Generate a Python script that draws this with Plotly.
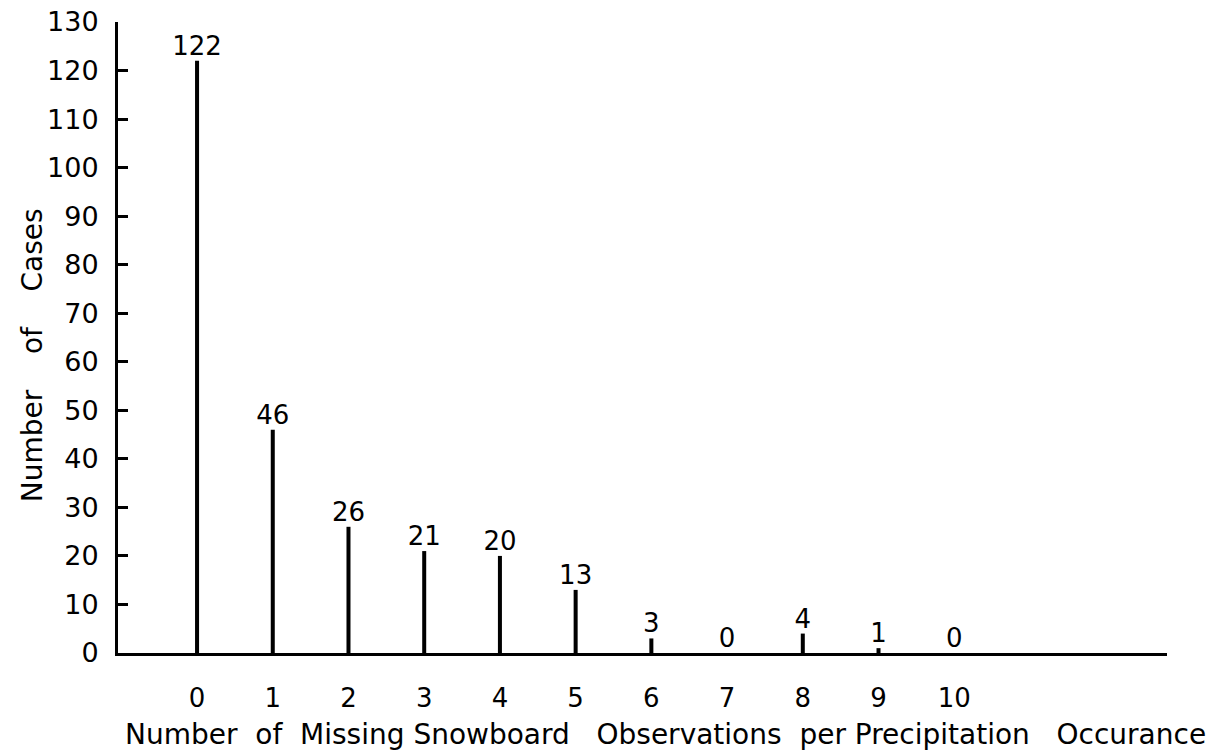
import plotly.graph_objects as go

categories = [0, 1, 2, 3, 4, 5, 6, 7, 8, 9, 10]
cases = [122, 46, 26, 21, 20, 13, 3, 0, 4, 1, 0]
y_ticks = list(range(0, 131, 10))
x_title_words = ["Number", "of", "Missing", "Snowboard", "Observations", "per", "Precipitation", "Occurance"]
y_title_words = ["Number", "of", "Cases"]

FONT = "DejaVu Sans"
NB = "\u00a0"

x_gaps = [2, 2, 1, 3, 2, 1, 3]
x_title = x_title_words[0]
for w, g in zip(x_title_words[1:], x_gaps):
    x_title += NB * g + w
y_title = (NB * 4).join(y_title_words)

fig = go.Figure()
fig.add_trace(go.Bar(
    x=categories,
    y=cases,
    width=0.053,
    marker=dict(color="black", line=dict(width=0)),
    text=[str(v) for v in cases],
    textposition="outside",
    constraintext="none",
    textfont=dict(family=FONT, size=26, color="black"),
    cliponaxis=False,
    hoverinfo="skip",
))

fig.update_layout(
    width=1217, height=756,
    margin=dict(l=118, r=50, t=22, b=103),
    paper_bgcolor="white", plot_bgcolor="white",
    showlegend=False,
    font=dict(family=FONT, color="black"),
    annotations=[
        dict(text=x_title, xref="paper", yref="paper", x=0.5215, y=0,
             xanchor="center", yanchor="middle", yshift=-81, showarrow=False,
             font=dict(family=FONT, size=28, color="black")),
        dict(text=y_title, xref="paper", yref="paper", x=-0.082, y=0.472,
             xanchor="center", yanchor="middle", textangle=-90, showarrow=False,
             font=dict(family=FONT, size=28, color="black")),
    ],
)
fig.update_xaxes(
    range=[-1.044, 12.81], automargin=False,
    tickmode="array", tickvals=categories, ticktext=[str(c) for c in categories],
    ticks="", showgrid=False, zeroline=False,
    showline=True, linecolor="black", linewidth=3,
    tickfont=dict(family=FONT, size=26, color="black"),
    ticklabelstandoff=20, ticklabeloverflow="allow",
)
fig.update_yaxes(
    range=[0, 130], automargin=False,
    tickmode="array", tickvals=y_ticks, ticktext=[str(v) for v in y_ticks],
    ticks="inside", ticklen=10, tickwidth=2.5, tickcolor="black",
    showgrid=False, zeroline=False,
    showline=True, linecolor="black", linewidth=3,
    tickfont=dict(family=FONT, size=27, color="black"),
    ticklabelstandoff=11, ticklabeloverflow="allow",
)

# remove the browser's default 8px body margin so the figure fills the window exactly
fig.write_html(
    "out.html",
    config={"displayModeBar": False},
    post_script="document.body.style.margin='0';document.body.style.overflow='hidden';",
)
